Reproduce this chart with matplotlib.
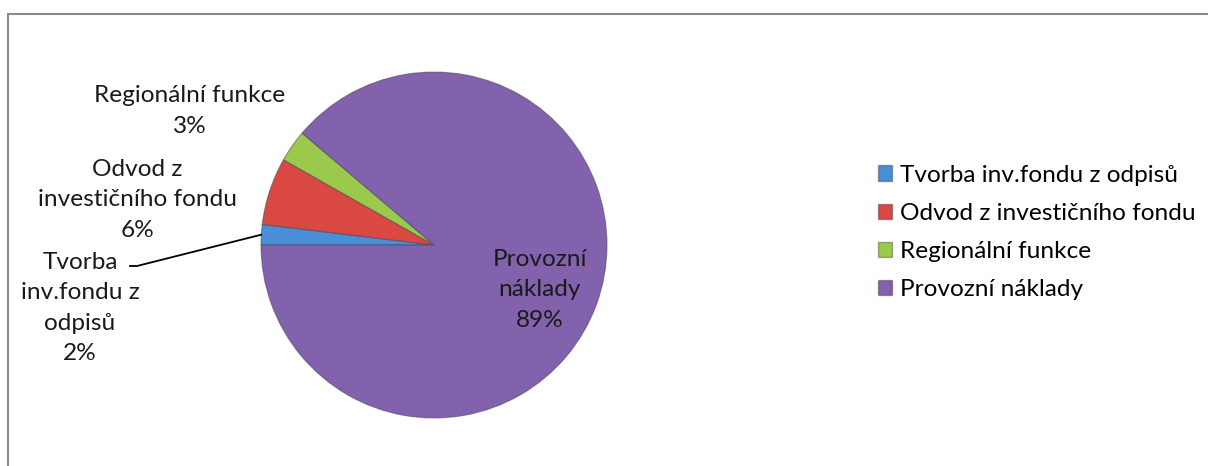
import matplotlib
matplotlib.use("Agg")
import matplotlib.pyplot as plt
from matplotlib.patches import Rectangle, Patch
import numpy as np

# data
kategorie = ["Tvorba inv.fondu z odpisů", "Odvod z investičního fondu",
             "Regionální funkce", "Provozní náklady"]
hodnoty = [1.9, 6.3, 3.0, 88.8]
barvy = ["#4a8ed8", "#d94843", "#9bc94b", "#8261ad"]
popisky = ["Tvorba\ninv.fondu z\nodpisů", "Odvod z\ninvestičního fondu",
           "Regionální funkce", "Provozní\nnáklady"]

plt.rcParams['font.family'] = ['Lato', 'DejaVu Sans']
fs = 17.6

W, H = 1208, 466
fig = plt.figure(figsize=(W / 100, H / 100), dpi=100)

# ramecek (jen horni a leva hrana sou videt)
fig.patches.append(Rectangle((8 / W, -0.1), 1.2, 1 - 14 / H + 0.1,
                             transform=fig.transFigure, fill=False,
                             edgecolor="#8c8c8c", linewidth=1.5))

cx, cy, r = 434, 245, 173
ax = fig.add_axes([(cx - r) / W, (H - cy - r) / H, 2 * r / W, 2 * r / H])
wedges, _ = ax.pie(hodnoty, colors=barvy, startangle=180, counterclock=False,
                   wedgeprops=dict(edgecolor=(0.25, 0.25, 0.3, 0.5), linewidth=0.8))
ax.set_xlim(-1, 1)
ax.set_ylim(-1, 1)


def px(x, y):
    # pixely obrazku -> souradnice osy
    return (x - cx) / r, (cy - y) / r


procenta = [str(int(round(v))) + "%" for v in hodnoty]

# popisky u vysecu (pozice odectene z predlohy)
pozice = [(80, 308), (137, 200), (190, 111), (540, 290)]
for i in range(len(hodnoty)):
    x, y = px(*pozice[i])
    ax.text(x, y, popisky[i] + "\n" + procenta[i], ha="center", va="center",
            fontsize=fs, linespacing=1.55, color="#1a1a1a")

# vodici cara k malemu vysecu
w = wedges[0]
uhel = np.deg2rad((w.theta1 + w.theta2) / 2)
x0, y0 = px(130, 266)
x1, y1 = px(137, 266)
ax.plot([x0, x1, np.cos(uhel)], [y0, y1, np.sin(uhel)], color="black",
        linewidth=1.3, clip_on=False)

handles = [Patch(facecolor=barvy[i], edgecolor=(0, 0, 0, 0.3)) for i in range(len(kategorie))]
fig.legend(handles, kategorie, loc="upper left", bbox_to_anchor=(868 / W, 1 - 155 / H),
           frameon=False, fontsize=fs, handlelength=0.6, handleheight=0.6,
           handletextpad=0.3, labelspacing=0.7, borderaxespad=0)

fig.savefig("out.png", dpi=100)
